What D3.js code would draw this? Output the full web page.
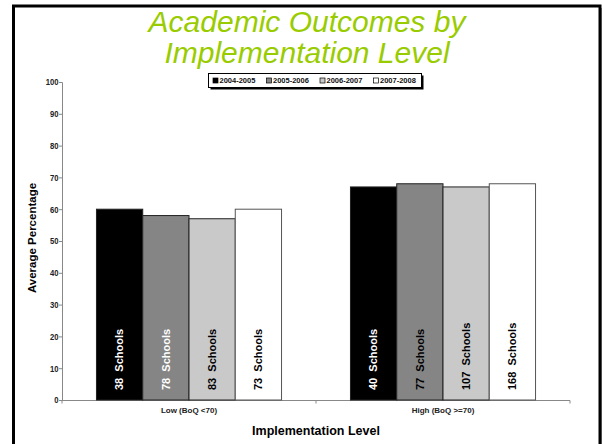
<!DOCTYPE html>
<html>
<head>
<meta charset="utf-8">
<script src="https://cdn.jsdelivr.net/npm/d3@7"></script>
<style>
  body { margin: 0; background: #fff; }
  text { font-family: "Liberation Sans", Arial, sans-serif; }
  .narrow { font-weight: bold; }
</style>
</head>
<body>
<div id="viz"></div>
<script>
// chart data
var categories = ["Low (BoQ <70)", "High (BoQ >=70)"];
var years = ["2004-2005", "2005-2006", "2006-2007", "2007-2008"];
var avg0405 = [60, 67];
var avg0506 = [58, 68];
var avg0607 = [57, 67];
var avg0708 = [60, 68];
var schools0405 = [38, 40];
var schools0506 = [78, 77];
var schools0607 = [83, 107];
var schools0708 = [73, 168];
var yTicks = [0, 10, 20, 30, 40, 50, 60, 70, 80, 90, 100];

var seriesVals = [avg0405, avg0506, avg0607, avg0708];
var seriesSchools = [schools0405, schools0506, schools0607, schools0708];
var fills = ["#000000", "#858585", "#c9c9c9", "#ffffff"];

var svg = d3.select("#viz")
  .append("svg")
  .attr("width", 602)
  .attr("height", 444);

svg.append("rect").attr("width", 602).attr("height", 444).attr("fill", "#fff");

// slide frame
svg.append("line")
  .attr("x1", 601.5).attr("x2", 601.5).attr("y1", 8).attr("y2", 444)
  .attr("stroke", "#999").attr("stroke-width", 1);
svg.append("rect")
  .attr("x", 13.5).attr("y", 6)
  .attr("width", 586.5).attr("height", 460)
  .attr("fill", "none").attr("stroke", "#000").attr("stroke-width", 3);

// title
var title = svg.append("text")
  .attr("text-anchor", "middle")
  .style("font-size", "30px")
  .style("font-style", "italic")
  .attr("fill", "#99cc00");
title.append("tspan").attr("x", 307).attr("y", 32).text("Academic Outcomes by");
title.append("tspan").attr("x", 307).attr("y", 63).text("Implementation Level");

var x0 = d3.scaleBand().domain(categories).range([62, 570]).padding(0);
var x1 = d3.scaleBand().domain(d3.range(years.length))
  .range([0, x0.bandwidth()]).paddingInner(0).paddingOuter(0.745);
var y = d3.scaleLinear().domain([0, 100]).range([400, 82]);

// axes
var yAxis = svg.append("g")
  .attr("transform", "translate(62,0)")
  .call(d3.axisLeft(y).tickValues(yTicks).tickSize(3).tickPadding(1));
yAxis.select(".domain").attr("stroke", "#888");
yAxis.selectAll(".tick line").attr("stroke", "#888");
yAxis.selectAll("text")
  .attr("class", "narrow")
  .attr("transform", "scale(0.85,1)")
  .style("font-size", "9px")
  .attr("fill", "#222");

var xAxis = svg.append("g")
  .attr("transform", "translate(0,400)");
xAxis.append("line")
  .attr("x1", 62).attr("x2", 570).attr("y1", 0.5).attr("y2", 0.5)
  .attr("stroke", "#888");
xAxis.selectAll(".tk")
  .data([x0.range()[0], x0(categories[1]), x0.range()[1]])
  .enter().append("line")
  .attr("x1", function(d) { return d; }).attr("x2", function(d) { return d; })
  .attr("y1", 0.5).attr("y2", 3.5).attr("stroke", "#888");
xAxis.selectAll(".cat")
  .data(categories)
  .enter().append("text")
  .attr("class", "narrow")
  .attr("x", function(d) { return x0(d) + x0.bandwidth() / 2; })
  .attr("y", 13)
  .attr("text-anchor", "middle")
  .style("font-size", "8px")
  .attr("fill", "#222")
  .text(function(d) { return d; });

// bars
years.forEach(function(yr, s) {
  var g = svg.append("g");
  g.selectAll("rect")
    .data(seriesVals[s])
    .enter().append("rect")
    .attr("x", function(d, i) { return x0(categories[i]) + x1(s); })
    .attr("y", function(d) { return y(d); })
    .attr("width", x1.bandwidth())
    .attr("height", function(d) { return y(0) - y(d); })
    .attr("fill", fills[s])
    .attr("stroke", s === 3 ? "#555" : "#222")
    .attr("stroke-width", 1);

  g.selectAll("text")
    .data(seriesSchools[s])
    .enter().append("text")
    .attr("transform", function(d, i) {
      var cx = x0(categories[i]) + x1(s) + x1.bandwidth() / 2;
      return "translate(" + cx + "," + 390 + ") rotate(-90)";
    })
    .attr("dy", "0.35em")
    .style("font-size", "11px")
    .style("font-weight", "bold")
    .style("white-space", "pre")
    .attr("fill", function(d, i) {
      return (s === 0 || (s === 1 && i === 0)) ? "#fff" : "#000";
    })
    .text(function(d) { return d + "  Schools"; });
});

// axis titles
svg.append("text")
  .attr("transform", "translate(36,238) rotate(-90)")
  .attr("text-anchor", "middle")
  .style("font-size", "11.5px")
  .style("font-weight", "bold")
  .text("Average Percentage");

svg.append("text")
  .attr("x", 316).attr("y", 435)
  .attr("text-anchor", "middle")
  .style("font-size", "12.5px")
  .style("font-weight", "bold")
  .text("Implementation Level");

// legend
var legend = svg.append("g");
legend.append("rect")
  .attr("x", 210.5).attr("y", 75.5).attr("width", 213).attr("height", 14)
  .attr("fill", "#000");
legend.append("rect")
  .attr("x", 208.5).attr("y", 73.5).attr("width", 213).attr("height", 14)
  .attr("fill", "#fff").attr("stroke", "#000").attr("stroke-width", 1);
var item = legend.selectAll(".item")
  .data(years)
  .enter().append("g")
  .attr("transform", function(d, i) { return "translate(" + (213 + i * 53.5) + ",80.5)"; });
item.append("rect")
  .attr("x", 0).attr("y", -2.5).attr("width", 5).attr("height", 5)
  .attr("fill", function(d, i) { return fills[i]; })
  .attr("stroke", "#000").attr("stroke-width", 0.7);
item.append("text")
  .attr("class", "narrow")
  .attr("x", 6.5).attr("dy", "0.35em")
  .style("font-size", "7.5px")
  .attr("fill", "#111")
  .text(function(d) { return d; });
</script>
</body>
</html>
